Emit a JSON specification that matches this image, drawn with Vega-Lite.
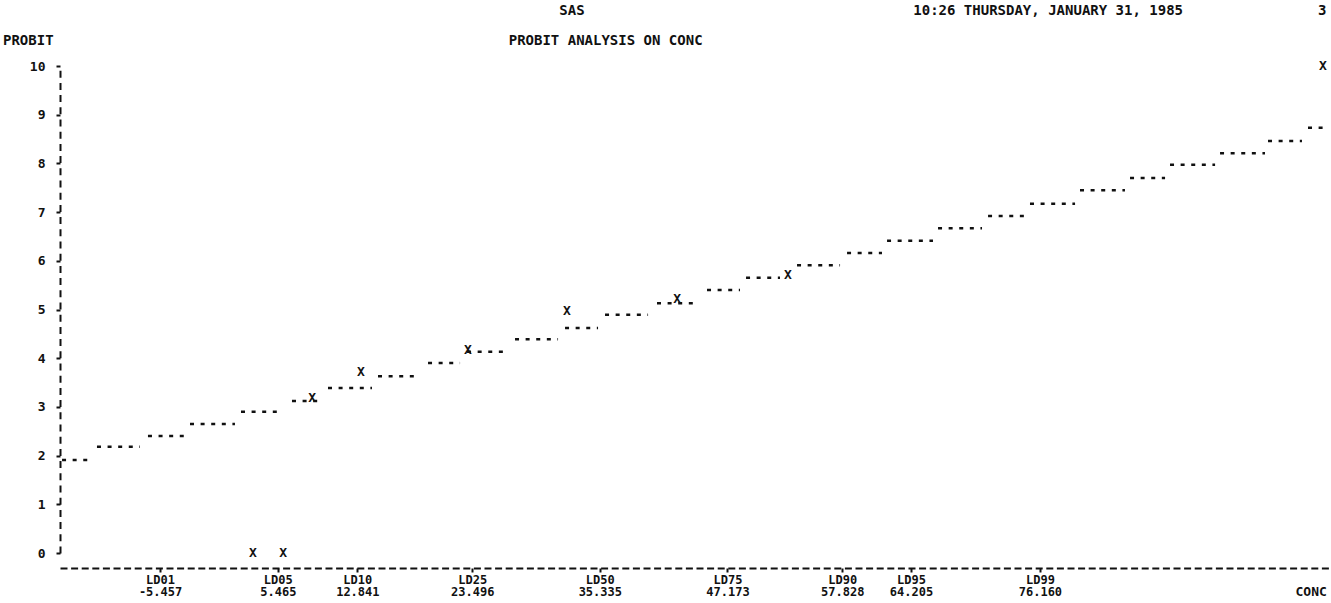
{
  "$schema": "https://vega.github.io/schema/vega-lite/v6.json",
  "width": 1270,
  "height": 487,
  "autosize": {"type": "none"},
  "padding": {"left": 60, "top": 66, "right": 1, "bottom": 50},
  "background": "white",
  "config": {"view": {"stroke": null}, "font": "DejaVu Sans Mono"},
  "title": {
    "text": "\u200b\u00a0\u00a0\u00a0\u00a0\u00a0\u00a0\u00a0\u00a0\u00a0\u00a0\u00a0\u00a0\u00a0\u00a0\u00a0\u00a0\u00a0\u00a0\u00a0\u00a0\u00a0\u00a0\u00a0\u00a0\u00a0\u00a0\u00a0\u00a0\u00a0\u00a0\u00a0\u00a0\u00a0\u00a0\u00a0\u00a0\u00a0\u00a0\u00a0\u00a0\u00a0\u00a0\u00a0\u00a0\u00a0\u00a0\u00a0\u00a0\u00a0\u00a0\u00a0\u00a0\u00a0\u00a0\u00a0\u00a0\u00a0\u00a0\u00a0\u00a0\u00a0\u00a0\u00a0\u00a0\u00a0\u00a0SAS\u00a0\u00a0\u00a0\u00a0\u00a0\u00a0\u00a0\u00a0\u00a0\u00a0\u00a0\u00a0\u00a0\u00a0\u00a0\u00a0\u00a0\u00a0\u00a0\u00a0\u00a0\u00a0\u00a0\u00a0\u00a0\u00a0\u00a0\u00a0\u00a0\u00a0\u00a0\u00a0\u00a0\u00a0\u00a0\u00a0\u00a0\u00a0\u00a010:26 THURSDAY, JANUARY 31, 1985\u00a0\u00a0\u00a0\u00a0\u00a0\u00a0\u00a0\u00a0\u00a0\u00a0\u00a0\u00a0\u00a0\u00a0\u00a0\u00a03",
    "subtitle": "PROBIT\u00a0\u00a0\u00a0\u00a0\u00a0\u00a0\u00a0\u00a0\u00a0\u00a0\u00a0\u00a0\u00a0\u00a0\u00a0\u00a0\u00a0\u00a0\u00a0\u00a0\u00a0\u00a0\u00a0\u00a0\u00a0\u00a0\u00a0\u00a0\u00a0\u00a0\u00a0\u00a0\u00a0\u00a0\u00a0\u00a0\u00a0\u00a0\u00a0\u00a0\u00a0\u00a0\u00a0\u00a0\u00a0\u00a0\u00a0\u00a0\u00a0\u00a0\u00a0\u00a0\u00a0\u00a0PROBIT ANALYSIS ON CONC",
    "anchor": "start",
    "frame": "group",
    "dx": -57,
    "offset": 12,
    "font": "DejaVu Sans Mono",
    "fontSize": 14,
    "fontWeight": "bold",
    "color": "#111",
    "subtitleFont": "DejaVu Sans Mono",
    "subtitleFontSize": 14,
    "subtitleFontWeight": "bold",
    "subtitleColor": "#111",
    "subtitlePadding": 16
  },
  "datasets": {
    "fit": [
      {"lo": -14.55, "hi": -11.77, "probit": 1.91},
      {"lo": -11.31, "hi": -7.32, "probit": 2.18},
      {"lo": -6.58, "hi": -3.24, "probit": 2.40},
      {"lo": -2.68, "hi": 1.49, "probit": 2.65},
      {"lo": 2.05, "hi": 5.95, "probit": 2.90},
      {"lo": 6.78, "hi": 9.66, "probit": 3.12},
      {"lo": 10.12, "hi": 14.20, "probit": 3.39},
      {"lo": 14.76, "hi": 18.66, "probit": 3.63},
      {"lo": 19.40, "hi": 22.37, "probit": 3.90},
      {"lo": 23.02, "hi": 26.82, "probit": 4.13},
      {"lo": 27.47, "hi": 31.46, "probit": 4.39},
      {"lo": 32.11, "hi": 35.17, "probit": 4.62},
      {"lo": 35.82, "hi": 39.81, "probit": 4.89},
      {"lo": 40.64, "hi": 44.44, "probit": 5.13},
      {"lo": 45.28, "hi": 48.34, "probit": 5.40},
      {"lo": 48.90, "hi": 52.05, "probit": 5.65},
      {"lo": 53.63, "hi": 57.62, "probit": 5.91},
      {"lo": 58.27, "hi": 61.51, "probit": 6.16},
      {"lo": 61.98, "hi": 66.24, "probit": 6.41},
      {"lo": 66.71, "hi": 70.79, "probit": 6.67},
      {"lo": 71.35, "hi": 74.78, "probit": 6.92},
      {"lo": 75.24, "hi": 79.42, "probit": 7.17},
      {"lo": 79.88, "hi": 84.05, "probit": 7.45},
      {"lo": 84.52, "hi": 87.77, "probit": 7.70},
      {"lo": 88.23, "hi": 92.41, "probit": 7.97},
      {"lo": 92.87, "hi": 97.04, "probit": 8.21},
      {"lo": 97.32, "hi": 100.47, "probit": 8.46},
      {"lo": 101.03, "hi": 102.61, "probit": 8.73}
    ],
    "obs": [
      {"conc": 3.16, "probit": 0},
      {"conc": 5.95, "probit": 0},
      {"conc": 8.64, "probit": 3.18},
      {"conc": 13.18, "probit": 3.72},
      {"conc": 23.11, "probit": 4.17},
      {"conc": 32.29, "probit": 4.97},
      {"conc": 42.50, "probit": 5.22},
      {"conc": 52.79, "probit": 5.71},
      {"conc": 102.42, "probit": 10}
    ]
  },
  "layer": [
    {
      "data": {"name": "fit"},
      "mark": {"type": "rule", "strokeDash": [4, 6.6], "strokeWidth": 2.5, "strokeCap": "butt", "color": "#111"},
      "encoding": {
        "x": {
          "field": "lo",
          "type": "quantitative",
          "title": "CONC",
          "scale": {"domain": [-14.74, 103.07], "nice": false, "zero": false},
          "axis": {
            "values": [-5.457, 5.465, 12.841, 23.496, 35.335, 47.173, 57.828, 64.205, 76.16],
            "labelExpr": "datum.value < 0 ? ['LD01', '-5.457'] : datum.value < 6 ? ['LD05', '5.465'] : datum.value < 13 ? ['LD10', '12.841'] : datum.value < 24 ? ['LD25', '23.496'] : datum.value < 36 ? ['LD50', '35.335'] : datum.value < 48 ? ['LD75', '47.173'] : datum.value < 58 ? ['LD90', '57.828'] : datum.value < 65 ? ['LD95', '64.205'] : ['LD99', '76.160']",
            "offset": 15,
            "grid": false,
            "domainDash": [7, 3.6],
            "domainWidth": 2,
            "domainColor": "#111",
            "tickSize": 4,
            "tickWidth": 2,
            "tickColor": "#111",
            "labelFont": "DejaVu Sans Mono",
            "labelFontSize": 12,
            "labelFontWeight": "bold",
            "labelColor": "#111",
            "labelBaseline": "top",
            "labelLineHeight": 12.5,
            "labelPadding": 2,
            "labelOverlap": false,
            "labelFlush": false,
            "labelBound": false,
            "titleFont": "DejaVu Sans Mono",
            "titleFontSize": 13,
            "titleFontWeight": "bold",
            "titleColor": "#111",
            "titleAlign": "left",
            "titleBaseline": "alphabetic",
            "titleX": 1235,
            "titleY": 27
          }
        },
        "x2": {"field": "hi"},
        "y": {
          "field": "probit",
          "type": "quantitative",
          "title": null,
          "scale": {"domain": [0, 10], "nice": false, "zero": false},
          "axis": {
            "values": [0, 1, 2, 3, 4, 5, 6, 7, 8, 9, 10],
            "grid": false,
            "domainDash": [7, 5.2],
            "domainWidth": 2,
            "domainColor": "#111",
            "tickSize": 4,
            "tickWidth": 2,
            "tickColor": "#111",
            "labelFont": "DejaVu Sans Mono",
            "labelFontSize": 13,
            "labelFontWeight": "bold",
            "labelColor": "#111",
            "labelPadding": 11
          }
        }
      }
    },
    {
      "data": {"name": "obs"},
      "mark": {"type": "text", "text": "X", "font": "DejaVu Sans Mono", "fontSize": 13, "fontWeight": "bold", "baseline": "middle", "align": "center", "color": "#111"},
      "encoding": {
        "x": {"field": "conc", "type": "quantitative", "title": "CONC"},
        "y": {"field": "probit", "type": "quantitative", "title": null}
      }
    }
  ]
}
